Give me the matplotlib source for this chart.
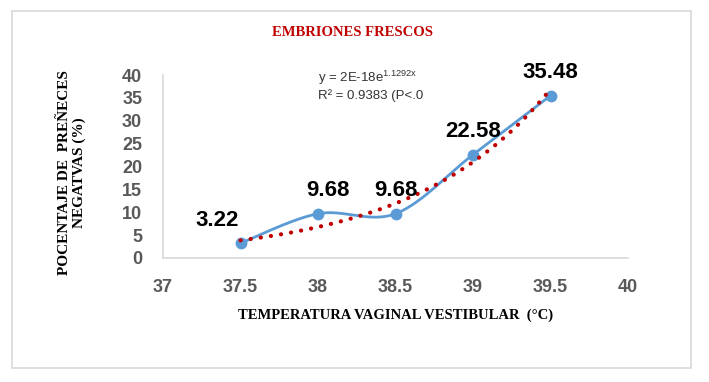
import matplotlib.pyplot as plt
import numpy as np
from matplotlib.patches import Rectangle

# data
temps = [37.5, 38.0, 38.5, 39.0, 39.5]
pct = [3.22, 9.68, 9.68, 22.58, 35.48]
labels = ['3.22', '9.68', '9.68', '22.58', '35.48']
label_dx = [-23, 10, 0, 0, 0]   # label offsets in pixels
xticks = [37, 37.5, 38, 38.5, 39, 39.5, 40]
xticklabels = ['37', '37.5', '38', '38.5', '39', '39.5', '40']
yticks = [0, 5, 10, 15, 20, 25, 30, 35, 40]

fig = plt.figure(figsize=(7.09, 3.82), dpi=100)
fig.patch.set_facecolor('white')

# outer frame
fig.patches.append(Rectangle((12/709, 1-368/382), 679/709, 357/382, transform=fig.transFigure,
                             fill=False, edgecolor='#d9d9d9', linewidth=1.2))

ax = fig.add_axes([163/709, 1-258/382, 465/709, 183/382])
ax.set_xlim(37, 40)
ax.set_ylim(0, 40)

# smoothed line (excel-like catmull-rom bezier)
x = np.array(temps)
y = np.array(pct)
px = np.concatenate([[x[0]], x, [x[-1]]])
py = np.concatenate([[y[0]], y, [y[-1]]])
sx, sy = [], []
t = np.linspace(0, 1, 40)
for i in range(1, len(px) - 2):
    p0 = np.array([px[i], py[i]])
    p3 = np.array([px[i+1], py[i+1]])
    c1 = p0 + (np.array([px[i+1], py[i+1]]) - np.array([px[i-1], py[i-1]])) / 6
    c2 = p3 - (np.array([px[i+2], py[i+2]]) - np.array([px[i], py[i]])) / 6
    b = ((1-t)**3)[:, None]*p0 + (3*(1-t)**2*t)[:, None]*c1 + (3*(1-t)*t**2)[:, None]*c2 + (t**3)[:, None]*p3
    sx.extend(b[:, 0]); sy.extend(b[:, 1])
ax.plot(sx, sy, color='#5b9bd5', linewidth=2, zorder=2)
ax.plot(temps, pct, 'o', color='#5b9bd5', markersize=7.5, zorder=3)

# exponential trendline
coef = np.polyfit(x, np.log(y), 1)
tx = np.linspace(37.5, 39.5, 100)
ax.plot(tx, np.exp(coef[1]) * np.exp(coef[0] * tx), color='#c00000', linewidth=3,
        linestyle=(0, (0.05, 2.4)), dash_capstyle='round', zorder=4)

for xi, yi, lab, dx in zip(temps, pct, labels, label_dx):
    ax.annotate(lab, (xi, yi), xytext=(dx * 0.72, 9), textcoords='offset points',
                ha='center', va='bottom', fontsize=16, fontweight='bold',
                family='Liberation Sans', color='black', zorder=5)

fig.text(318/709, 1-78/382, 'y = 2E-18e$^{\\mathregular{1.1292x}}$', ha='left', va='center',
         fontsize=9.5, color='#333333', family='Liberation Sans')
fig.text(318/709, 1-96/382, 'R² = 0.9383 (P<.0', ha='left', va='center',
         fontsize=9.5, color='#333333', family='Liberation Sans')

tick_font = dict(fontsize=13, fontweight='bold', family='Liberation Sans', color='#595959')
ax.set_xticks(xticks, labels=xticklabels, **tick_font)
ax.set_yticks(yticks, labels=[str(v) for v in yticks], **tick_font)
ax.tick_params(length=0)
ax.tick_params(axis='x', pad=15)
ax.tick_params(axis='y', pad=15)
for s in ['top', 'right']:
    ax.spines[s].set_visible(False)
for s in ['left', 'bottom']:
    ax.spines[s].set_color('#d9d9d9')
    ax.spines[s].set_linewidth(1.2)

fig.text(352/709, 1-32/382, 'EMBRIONES FRESCOS', ha='center', va='center', color='#c00000',
         fontsize=10.5, fontweight='bold', family='Liberation Serif')
fig.text(396/709, 1-315/382, 'TEMPERATURA VAGINAL VESTIBULAR  (°C)', ha='center', va='center',
         color='black', fontsize=10.5, fontweight='bold', family='Liberation Serif')
fig.text(72/709, 1-173/382, 'POCENTAJE DE  PREÑECES\nNEGATVAS (%)', ha='center', va='center',
         rotation=90, color='black', fontsize=11, fontweight='bold', family='Liberation Serif',
         linespacing=1.1)

fig.savefig('out.png', dpi=100)
